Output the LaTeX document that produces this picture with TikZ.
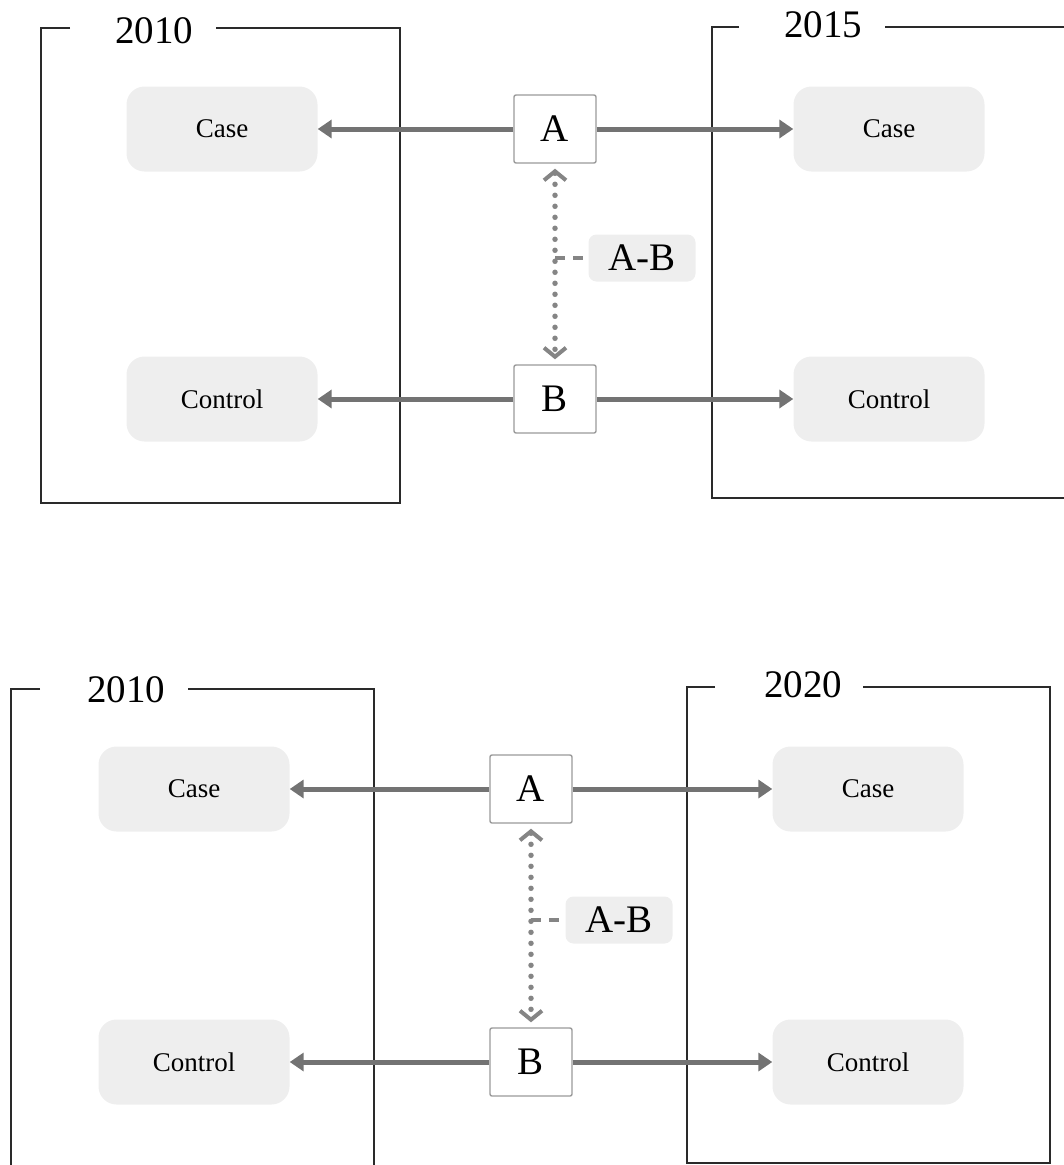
\documentclass[tikz,border=0pt]{standalone}
\usepackage{fontspec}
\setmainfont{Liberation Serif}
\usetikzlibrary{arrows.meta}

\definecolor{boxgray}{HTML}{EEEEEE}
\definecolor{linkgray}{HTML}{737373}
\definecolor{dotgray}{HTML}{858585}
\definecolor{edgegray}{HTML}{9A9A9A}
\definecolor{framegray}{HTML}{2A2A2A}

\tikzset{
    group/.style={fill=boxgray, rounded corners=18pt, minimum width=191pt,
        minimum height=85pt, font=\fontsize{27}{30}\selectfont},
    letterbox/.style={draw=edgegray, fill=white, rounded corners=2pt,
        line width=1.4pt, minimum width=82pt, minimum height=68pt,
        font=\fontsize{39}{42}\selectfont},
    pairlabel/.style={fill=boxgray, rounded corners=8pt, minimum width=107pt,
        minimum height=47pt, font=\fontsize{39}{42}\selectfont},
    year/.style={font=\fontsize{39}{42}\selectfont, inner sep=0pt},
    frame/.style={draw=framegray, line width=2.2pt},
    link/.style={draw=linkgray, line width=5pt,
        -{Triangle[length=14pt,width=18pt]}},
    pairline/.style={draw=dotgray, line width=5.5pt, line cap=round,
        dash pattern=on 0pt off 11pt, shorten <=5pt, shorten >=5pt,
        {Straight Barb[length=9pt,width=22pt,line width=4pt]}-{Straight Barb[length=9pt,width=22pt,line width=4pt]}},
    pairdash/.style={draw=dotgray, line width=3.5pt, dash pattern=on 10pt off 8pt}
}

\begin{document}
\begin{tikzpicture}[x=1pt, y=-1pt]
    \useasboundingbox (0,0) rectangle (1064,1165);

    % Top panel: 2010 vs 2015
    \draw[frame] (70,28) -- (41,28) -- (41,503) -- (400,503) -- (400,28) -- (216,28);
    \node[year] (y1) at (154,31) {2010};
    \draw[frame] (739,27) -- (712,27) -- (712,498) -- (1070,498);
    \draw[frame] (885,27) -- (1070,27);
    \node[year] (y2) at (823,25) {2015};

    \node[group] (caseL1) at (222,129) {Case};
    \node[group] (caseR1) at (889,129) {Case};
    \node[group] (ctrlL1) at (222,399) {Control};
    \node[group] (ctrlR1) at (889,399) {Control};
    \node[letterbox] (A1) at (555,129) {A};
    \node[letterbox] (B1) at (555,399) {B};
    \node[pairlabel] (AB1) at (642,258) {A-B};

    \draw[link] (A1.west) -- (caseL1.east);
    \draw[link] (A1.east) -- (caseR1.west);
    \draw[link] (B1.west) -- (ctrlL1.east);
    \draw[link] (B1.east) -- (ctrlR1.west);
    \draw[pairline] (A1.south) -- (B1.north);
    \coordinate (m1) at (A1.center |- AB1.west);
    \draw[pairdash] (m1) -- (AB1.west);

    % Bottom panel: 2010 vs 2020
    \draw[frame] (40,689) -- (11,689) -- (11,1170);
    \draw[frame] (188,689) -- (374,689) -- (374,1170);
    \node[year] (y3) at (126,690) {2010};
    \draw[frame] (715,687) -- (687,687) -- (687,1163) -- (1050,1163) -- (1050,687) -- (863,687);
    \node[year] (y4) at (803,685) {2020};

    \node[group] (caseL2) at (194,789) {Case};
    \node[group] (caseR2) at (868,789) {Case};
    \node[group] (ctrlL2) at (194,1062) {Control};
    \node[group] (ctrlR2) at (868,1062) {Control};
    \node[letterbox] (A2) at (531,789) {A};
    \node[letterbox] (B2) at (531,1062) {B};
    \node[pairlabel] (AB2) at (619,920) {A-B};

    \draw[link] (A2.west) -- (caseL2.east);
    \draw[link] (A2.east) -- (caseR2.west);
    \draw[link] (B2.west) -- (ctrlL2.east);
    \draw[link] (B2.east) -- (ctrlR2.west);
    \draw[pairline] (A2.south) -- (B2.north);
    \coordinate (m2) at (A2.center |- AB2.west);
    \draw[pairdash] (m2) -- (AB2.west);
\end{tikzpicture}
\end{document}
